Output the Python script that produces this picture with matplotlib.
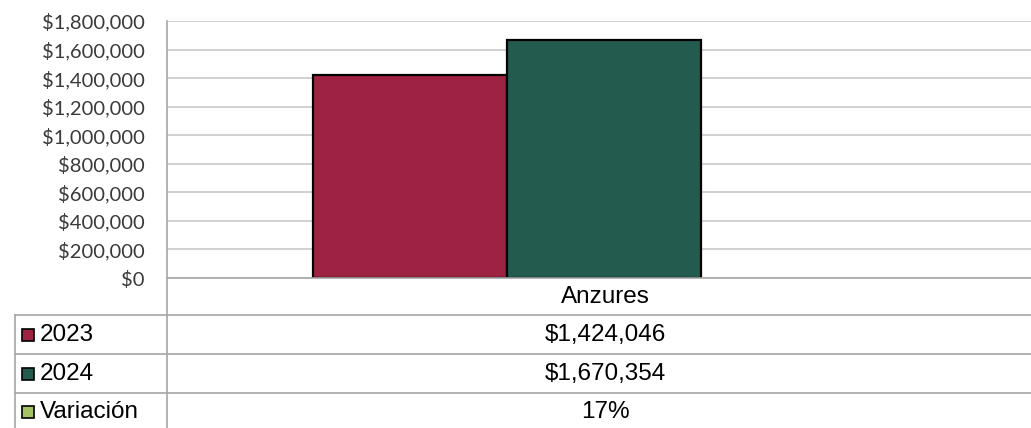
import matplotlib
matplotlib.use("Agg")
import matplotlib.pyplot as plt
from matplotlib.patches import Rectangle
from matplotlib.lines import Line2D

# data
category = "Anzures"
series = ["2023", "2024", "Variación"]
values = [1424046, 1670354, 0.17]
table_text = ["$1,424,046", "$1,670,354", "17%"]
colors = ["#9E2242", "#235B4E", "#A4C464"]
yticks = [0, 200000, 400000, 600000, 800000, 1000000, 1200000, 1400000, 1600000, 1800000]

W, H = 1031, 428
fig = plt.figure(figsize=(W / 100, H / 100), dpi=100)

def fx(px):
    return px / W

def fy(py):
    return 1 - py / H

ax = fig.add_axes([fx(167), fy(278), fx(1041) - fx(167), fy(21) - fy(278)])

bw = 0.222
offsets = [-bw, 0, bw]
for i in range(3):
    if i < 2:
        ax.bar(offsets[i], values[i], width=bw, color=colors[i],
               edgecolor="black", linewidth=1.6, zorder=3)
    else:
        ax.bar(offsets[i], values[i], width=bw, color=colors[i],
               linewidth=0, zorder=3)

ax.set_xlim(-0.5, 0.5)
ax.set_ylim(0, 1800000)
ax.set_yticks(yticks)
ax.set_yticklabels(["$" + format(v, ",") for v in yticks],
                   fontfamily="Lato", fontsize=14.5, color="#3a3a3a")
ax.tick_params(axis="y", length=0, pad=16)
ax.set_xticks([])
ax.grid(axis="y", color="#c8c8c8", linewidth=1.2, zorder=0)
for s in ["top", "right", "bottom", "left"]:
    ax.spines[s].set_visible(False)

line_col = "#a6a6a6"
# vertical axis line running through the table
fig.add_artist(Line2D([fx(167), fx(167)], [fy(21), fy(428)], color=line_col, lw=1.2))
# baseline
fig.add_artist(Line2D([fx(167), fx(1031)], [fy(278), fy(278)], color=line_col, lw=1.2))
# table rows
for yy in [315, 354, 393]:
    fig.add_artist(Line2D([fx(15), fx(1031)], [fy(yy), fy(yy)], color=line_col, lw=1.2))
fig.add_artist(Line2D([fx(15), fx(15)], [fy(315), fy(428)], color=line_col, lw=1.2))

fs = 17.5
fig.text(fx(605), fy(297), category, ha="center", va="center",
         fontfamily="Liberation Sans", fontsize=fs, color="black")

row_centers = [335, 374, 412]
for i in range(3):
    yc = row_centers[i]
    fig.add_artist(Rectangle((fx(22), fy(yc + 6)), fx(12), fy(yc - 6) - fy(yc + 6),
                             facecolor=colors[i], edgecolor="black", linewidth=1.2))
    fig.text(fx(40), fy(yc), series[i], ha="left", va="center",
             fontfamily="Liberation Sans", fontsize=fs, color="black")
    fig.text(fx(605), fy(yc), table_text[i], ha="center", va="center",
             fontfamily="Liberation Sans", fontsize=fs, color="black")

fig.savefig("out.png", dpi=100)
